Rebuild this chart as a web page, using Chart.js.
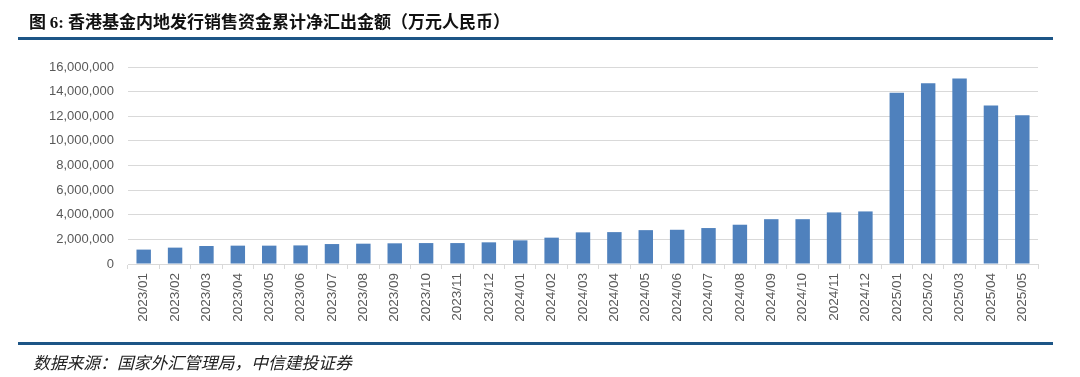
<!DOCTYPE html>
<html>
<head>
<meta charset="utf-8">
<script src="https://cdn.jsdelivr.net/npm/chart.js@4.4.1/dist/chart.umd.min.js"></script>
<style>
  html, body { margin:0; padding:0; background:#fff; width:1080px; height:377px; overflow:hidden; }
  #wrap { position:relative; width:1080px; height:377px; }
  #c { position:absolute; left:0; top:0; }
  .title { position:absolute; left:29px; top:9px; font-family:"Noto Sans CJK SC","Noto Sans",sans-serif; font-weight:bold; font-size:17px; color:#111; white-space:nowrap; line-height:24px; }
  .title .num { font-family:"Liberation Serif","DejaVu Serif",serif; }
  .line { position:absolute; left:18px; width:1035px; height:3px; background:#1d5586; }
  .foot { position:absolute; left:33px; top:350px; font-family:"Noto Sans CJK SC",sans-serif; font-style:italic; font-size:16.8px; color:#222; white-space:nowrap; line-height:24px; }
</style>
</head>
<body>
<div id="wrap">
  <canvas id="c" width="1080" height="377"></canvas>
  <div class="title">图 <span class="num">6:</span>&nbsp;香港基金内地发行销售资金累计净汇出金额（万元人民币）</div>
  <div class="line" style="top:37px"></div>
  <div class="line" style="top:342px"></div>
  <div class="foot">数据来源：国家外汇管理局，中信建投证券</div>
</div>
<script>
const categories = ["2023/01","2023/02","2023/03","2023/04","2023/05","2023/06","2023/07","2023/08","2023/09","2023/10","2023/11","2023/12",
  "2024/01","2024/02","2024/03","2024/04","2024/05","2024/06","2024/07","2024/08","2024/09","2024/10","2024/11","2024/12",
  "2025/01","2025/02","2025/03","2025/04","2025/05"];
const netOutflow = [1170000,1330000,1460000,1490000,1490000,1510000,1620000,1650000,1680000,1700000,1700000,1760000,
  1920000,2140000,2570000,2590000,2750000,2780000,2920000,3190000,3640000,3640000,4190000,4270000,
  13900000,14680000,15060000,12870000,12080000];
const yTicks = { min: 0, max: 16000000, step: 2000000 };

const yFont = { family: "'Liberation Sans', Arial, sans-serif", size: 13 };
const xFont = { family: "'Liberation Sans', Arial, sans-serif", size: 13.5 };
new Chart(document.getElementById('c'), {
  type: 'bar',
  data: {
    labels: categories,
    datasets: [{
      data: netOutflow,
      backgroundColor: '#4f81bd',
      borderColor: '#4f81bd',
      borderWidth: 0,
      barPercentage: 0.46,
      categoryPercentage: 1.0
    }]
  },
  options: {
    responsive: false,
    devicePixelRatio: 1,
    animation: false,
    layout: { padding: { left: 0, right: 42, top: 67, bottom: 0 } },
    plugins: { legend: { display: false }, tooltip: { enabled: false } },
    scales: {
      x: {
        offset: true,
        grid: { display: true, drawOnChartArea: false, drawTicks: true, tickLength: 5, offset: true, color: '#d9d9d9', lineWidth: 1 },
        border: { display: true, color: '#d9d9d9', width: 1 },
        ticks: { color: '#595959', font: xFont, minRotation: 90, maxRotation: 90, padding: 4, autoSkip: false },
        afterFit: (s) => { s.height = 113; }
      },
      y: {
        min: yTicks.min, max: yTicks.max,
        grid: { color: '#d9d9d9', lineWidth: 1, drawTicks: false },
        border: { display: false },
        ticks: {
          stepSize: yTicks.step, color: '#595959', font: yFont, padding: 14,
          callback: (v) => Number(v).toLocaleString('en-US')
        },
        afterFit: (s) => { s.width = 128; }
      }
    }
  }
});
</script>
</body>
</html>
